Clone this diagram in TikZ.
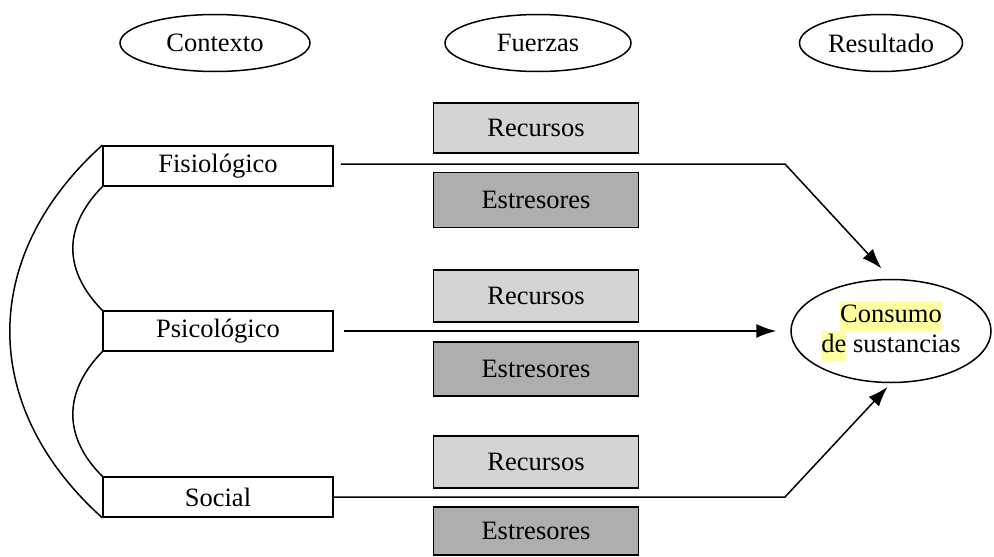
\documentclass[tikz,border=0pt]{standalone}
\usepackage{fontspec}
\setmainfont{Liberation Serif}
\usetikzlibrary{shapes.geometric,arrows.meta}
\definecolor{reclight}{RGB}{212,212,212}
\definecolor{estdark}{RGB}{174,174,174}
\definecolor{hl}{RGB}{255,255,160}
\tikzset{
  txt/.style={font=\fontsize{26.5}{30}\selectfont},
  oval/.style={ellipse, draw, line width=1.5pt, inner sep=0pt, txt},
  ctxbox/.style={draw, line width=1.5pt, minimum width=230pt, minimum height=40pt, inner sep=0pt, txt},
  recbox/.style={draw, line width=1.5pt, fill=reclight, minimum width=205pt, inner sep=0pt, txt},
  estbox/.style={draw, line width=1.5pt, fill=estdark, minimum width=205pt, inner sep=0pt, txt},
  arr/.style={line width=1.5pt, -{Latex[length=20pt,width=14pt]}},
  arc/.style={line width=1.5pt}
}
\begin{document}
\begin{tikzpicture}[x=1pt,y=-1pt]
\useasboundingbox (0,0) rectangle (994,557);
% header ellipses
\node[oval, minimum width=190pt, minimum height=57pt] (ctx) at (215,43) {Contexto};
\node[oval, minimum width=186pt, minimum height=57pt] (fz) at (538,43) {Fuerzas};
\node[oval, minimum width=163pt, minimum height=57pt] (res) at (881,43) {Resultado};
% context boxes
\node[ctxbox] (fis) at (218,166) {Fisiológico};
\node[ctxbox] (psi) at (218,331) {Psicológico};
\node[ctxbox] (soc) at (218,497) {Social};
% forces
\node[recbox, minimum height=50pt] (rec1) at (536,128) {Recursos};
\node[estbox, minimum height=55pt] (est1) at (536,200) {Estresores};
\node[recbox, minimum height=52pt] (rec2) at (536,296) {Recursos};
\node[estbox, minimum height=54pt] (est2) at (536,369) {Estresores};
\node[recbox, minimum height=52pt] (rec3) at (536,462) {Recursos};
\node[estbox, minimum height=48pt] (est3) at (536,531) {Estresores};
% outcome
\node[oval, minimum width=200pt, minimum height=103pt, align=center] (cons) at (891,331)
  {\setlength{\fboxsep}{0pt}\colorbox{hl}{\strut Consumo}\\[0pt]\setlength{\fboxsep}{0pt}\colorbox{hl}{\strut de} sustancias};
% bends
\coordinate (b1) at (785,164);
\coordinate (b3) at (785,497);
% connectors
\draw[arr, shorten <=7pt, shorten >=14pt] (fis.east |- b1) -- (b1) -- (cons.north);
\draw[arr, shorten <=10pt, shorten >=14pt] (psi.east) -- (cons.west);
\draw[arr, shorten >=5pt] (soc.east) -- (b3) -- (cons.south);
% arcs on the left
\draw[arc] (fis.north west) .. controls (-21,256) and (-21,407) .. (soc.south west);
\draw[arc] (fis.south west) .. controls (63,227) and (63,270) .. (psi.north west);
\draw[arc] (psi.south west) .. controls (63,392) and (63,437) .. (soc.north west);
\end{tikzpicture}
\end{document}
